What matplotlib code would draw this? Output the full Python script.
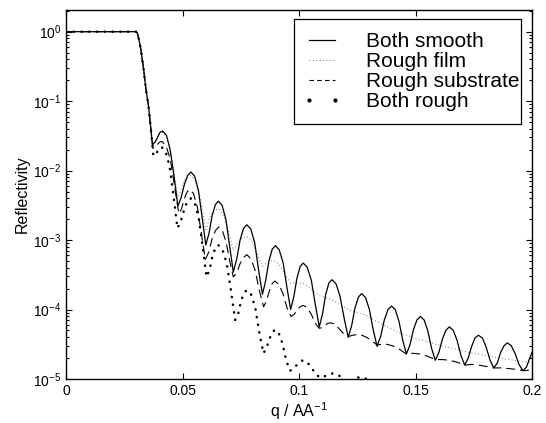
import numpy as np
import matplotlib.pyplot as plt
from matplotlib.lines import Line2D
from matplotlib.patches import Rectangle
from matplotlib.ticker import LogLocator, NullFormatter

plt.rcParams['font.family'] = ['Liberation Sans', 'DejaVu Sans']
plt.rcParams['mathtext.fontset'] = 'custom'
plt.rcParams['mathtext.rm'] = 'Liberation Sans'
plt.rcParams['mathtext.it'] = 'Liberation Sans:italic'

# total reflection plateau and critical edge (shared by all curves)
q_edge = [0.0, 0.0300, 0.0306, 0.0312, 0.0321, 0.0333, 0.0343, 0.0354, 0.0363]
lr_edge = [0.0, 0.0, -0.02, -0.10, -0.25, -0.54, -0.83, -1.07, -1.36]

# log10(R)
q_smooth = [0.0371, 0.0382, 0.0393, 0.0403, 0.0414, 0.0431, 0.0447, 0.0464,
            0.0480, 0.0494, 0.0508, 0.0522, 0.0536, 0.0552, 0.0568, 0.0584,
            0.0600, 0.0614, 0.0627, 0.0641, 0.0654, 0.0670, 0.0686, 0.0702,
            0.0718, 0.0733, 0.0747, 0.0762, 0.0776, 0.0793, 0.0810, 0.0826,
            0.0843, 0.0857, 0.0871, 0.0885, 0.0899, 0.0915, 0.0932, 0.0948,
            0.0964, 0.0978, 0.0991, 0.1005, 0.1018, 0.1035, 0.1053, 0.1070,
            0.1087, 0.1101, 0.1114, 0.1128, 0.1141, 0.1159, 0.1176, 0.1194,
            0.1211, 0.1226, 0.1240, 0.1255, 0.1269, 0.1286, 0.1302, 0.1319,
            0.1335, 0.1351, 0.1366, 0.1382, 0.1397, 0.1413, 0.1429, 0.1445,
            0.1461, 0.1476, 0.1491, 0.1506, 0.1521, 0.1537, 0.1553, 0.1569,
            0.1585, 0.1600, 0.1615, 0.1630, 0.1645, 0.1662, 0.1678, 0.1695,
            0.1711, 0.1726, 0.1741, 0.1755, 0.1770, 0.1787, 0.1803, 0.1820,
            0.1836, 0.1851, 0.1865, 0.1880, 0.1894, 0.1911, 0.1928, 0.1944,
            0.1961, 0.1976, 0.1990, 0.2000]
lr_smooth = [-1.63, -1.59, -1.52, -1.45, -1.43, -1.49, -1.70, -2.09,
             -2.51, -2.39, -2.20, -2.07, -2.02, -2.08, -2.28, -2.67,
             -3.07, -2.90, -2.65, -2.49, -2.44, -2.50, -2.70, -3.08,
             -3.46, -3.27, -3.00, -2.83, -2.78, -2.84, -3.04, -3.42,
             -3.78, -3.58, -3.30, -3.13, -3.08, -3.14, -3.33, -3.68,
             -4.00, -3.81, -3.55, -3.38, -3.33, -3.39, -3.58, -3.93,
             -4.25, -4.06, -3.79, -3.62, -3.57, -3.63, -3.81, -4.13,
             -4.40, -4.23, -3.98, -3.82, -3.77, -3.83, -4.00, -4.30,
             -4.53, -4.38, -4.15, -4.00, -3.95, -4.00, -4.17, -4.44,
             -4.64, -4.51, -4.29, -4.15, -4.10, -4.15, -4.31, -4.56,
             -4.73, -4.62, -4.43, -4.30, -4.25, -4.30, -4.44, -4.66,
             -4.80, -4.70, -4.53, -4.41, -4.37, -4.41, -4.54, -4.73,
             -4.84, -4.77, -4.62, -4.52, -4.48, -4.52, -4.64, -4.79,
             -4.88, -4.83, -4.70, -4.62]

q_film = [0.0371, 0.0385, 0.0400, 0.0414, 0.0430, 0.0447, 0.0464, 0.0480,
          0.0495, 0.0510, 0.0536, 0.0555, 0.0575, 0.0600, 0.0615, 0.0630,
          0.0654, 0.0672, 0.0695, 0.0718, 0.0735, 0.0755, 0.0776, 0.0795,
          0.0820, 0.0843, 0.0860, 0.0880, 0.0899, 0.0920, 0.0964, 0.1018,
          0.1087, 0.1141, 0.1211, 0.1283, 0.1433, 0.1576, 0.1719, 0.1861,
          0.2000]
lr_film = [-1.63, -1.57, -1.48, -1.45, -1.51, -1.70, -2.05, -2.40,
           -2.26, -2.13, -2.07, -2.14, -2.38, -2.85, -2.70, -2.58,
           -2.55, -2.61, -2.85, -3.15, -3.05, -2.97, -2.95, -3.00,
           -3.20, -3.38, -3.33, -3.30, -3.30, -3.38, -3.62, -3.62,
           -3.80, -3.86, -4.00, -4.08, -4.34, -4.49, -4.61, -4.70,
           -4.77]

q_subst = [0.0373, 0.0383, 0.0392, 0.0402, 0.0411, 0.0429, 0.0448, 0.0466,
           0.0484, 0.0496, 0.0507, 0.0519, 0.0530, 0.0547, 0.0564, 0.0581,
           0.0598, 0.0613, 0.0627, 0.0642, 0.0656, 0.0672, 0.0687, 0.0703,
           0.0718, 0.0733, 0.0747, 0.0762, 0.0776, 0.0794, 0.0812, 0.0830,
           0.0848, 0.0860, 0.0872, 0.0884, 0.0896, 0.0914, 0.0931, 0.0949,
           0.0966, 0.0979, 0.0992, 0.1005, 0.1018, 0.1035, 0.1053, 0.1070,
           0.1087, 0.1099, 0.1111, 0.1123, 0.1135, 0.1154, 0.1173, 0.1192,
           0.1211, 0.1230, 0.1250, 0.1270, 0.1290, 0.1312, 0.1335, 0.1355,
           0.1375, 0.1400, 0.1430, 0.1461, 0.1490, 0.1520, 0.1550, 0.1585,
           0.1615, 0.1645, 0.1680, 0.1711, 0.1740, 0.1770, 0.1805, 0.1836,
           0.1865, 0.1900, 0.1930, 0.1961, 0.2000]
lr_subst = [-1.68, -1.665, -1.625, -1.59, -1.58, -1.64, -1.84, -2.23,
            -2.62, -2.55, -2.41, -2.31, -2.27, -2.33, -2.53, -2.91,
            -3.28, -3.17, -2.98, -2.86, -2.81, -2.87, -3.03, -3.31,
            -3.53, -3.47, -3.34, -3.25, -3.21, -3.27, -3.44, -3.73,
            -3.96, -3.88, -3.74, -3.63, -3.59, -3.64, -3.77, -3.98,
            -4.10, -4.07, -4.01, -3.96, -3.94, -3.97, -4.07, -4.20,
            -4.27, -4.26, -4.23, -4.20, -4.19, -4.21, -4.28, -4.35,
            -4.39, -4.37, -4.36, -4.37, -4.40, -4.45, -4.51, -4.50,
            -4.50, -4.52, -4.57, -4.64, -4.63, -4.64, -4.67, -4.72,
            -4.72, -4.73, -4.76, -4.80, -4.79, -4.80, -4.82, -4.84,
            -4.84, -4.85, -4.86, -4.88, -4.87]

q_both = [0.0375, 0.0384, 0.0393, 0.0401, 0.0410, 0.0427, 0.0444, 0.0461,
          0.0478, 0.0492, 0.0507, 0.0521, 0.0535, 0.0552, 0.0569, 0.0586,
          0.0603, 0.0616, 0.0628, 0.0641, 0.0653, 0.0671, 0.0690, 0.0708,
          0.0726, 0.0739, 0.0751, 0.0764, 0.0776, 0.0794, 0.0812, 0.0829,
          0.0847, 0.0860, 0.0872, 0.0885, 0.0897, 0.0913, 0.0929, 0.0945,
          0.0961, 0.0975, 0.0990, 0.1004, 0.1018, 0.1036, 0.1054, 0.1072,
          0.1090, 0.1104, 0.1118, 0.1131, 0.1145, 0.1163, 0.1180, 0.1198,
          0.1215, 0.1240, 0.1265, 0.1290, 0.1335, 0.1400, 0.1500, 0.2000]
lr_both = [-1.79, -1.77, -1.72, -1.68, -1.66, -1.72, -1.93, -2.35,
           -2.83, -2.74, -2.56, -2.44, -2.40, -2.46, -2.67, -3.08,
           -3.53, -3.43, -3.24, -3.11, -3.07, -3.13, -3.34, -3.73,
           -4.15, -4.06, -3.88, -3.76, -3.72, -3.78, -3.97, -4.32,
           -4.63, -4.56, -4.43, -4.33, -4.29, -4.34, -4.49, -4.73,
           -4.88, -4.86, -4.80, -4.75, -4.73, -4.76, -4.84, -4.93,
           -4.98, -4.97, -4.95, -4.93, -4.92, -4.93, -4.97, -5.02,
           -5.06, -4.99, -4.97, -5.00, -5.15, -5.10, -5.30, -5.60]

labels = ['Both smooth', 'Rough film', 'Rough substrate', 'Both rough']


def full_curve(q, lr):
    qq = np.concatenate([q_edge, q])
    rr = 10.0 ** np.concatenate([lr_edge, lr])
    return qq, rr


fig = plt.figure(figsize=(5.46, 4.23), dpi=100)
ax = fig.add_axes([0.1209, 0.104, 0.8535, 0.8723])

x, y = full_curve(q_both, lr_both)
ax.plot(x, y, color='k', lw=1.8, ls=(0, (0.1, 3.0)), dash_capstyle='round')
x, y = full_curve(q_subst, lr_subst)
ax.plot(x, y, color='k', lw=0.8, ls=(0, (8, 4.5)))
x, y = full_curve(q_film, lr_film)
ax.plot(x, y, color='0.45', lw=0.7, ls=(0, (1, 2.5)))
x, y = full_curve(q_smooth, lr_smooth)
ax.plot(x, y, color='k', lw=0.9)

ax.set_yscale('log')
ax.set_xlim(0, 0.2)
ax.set_ylim(1e-5, 2.05)
ax.set_xticks([0, 0.05, 0.1, 0.15, 0.2])
ax.set_xticklabels(['0', '0.05', '0.1', '0.15', '0.2'])
ax.set_yticks([1e-5, 1e-4, 1e-3, 1e-2, 1e-1, 1])
ax.set_yticklabels(['$10^{-5}$', '$10^{-4}$', '$10^{-3}$', '$10^{-2}$',
                    '$10^{-1}$', '$10^{0}$'])
ax.yaxis.set_minor_locator(LogLocator(base=10, subs=range(2, 10), numticks=20))
ax.yaxis.set_minor_formatter(NullFormatter())
ax.tick_params(which='both', direction='in', top=True, right=True,
               labelsize=10, width=0.8)
ax.tick_params(which='major', length=4.5)
ax.tick_params(which='minor', length=2.5)
for s in ax.spines.values():
    s.set_linewidth(1.0)

ax.set_xlabel('q / AA$^{-1}$', fontsize=11.5, labelpad=2)
ax.set_ylabel('Reflectivity', fontsize=11.5, labelpad=2)

# legend box drawn separately so the long label can overflow it
box = Rectangle((0.4893, 0.6911), 0.4871, 0.2837, transform=ax.transAxes,
                facecolor='white', edgecolor='k', lw=0.9, zorder=4)
ax.add_patch(box)
handles = [Line2D([], [], color='k', lw=0.9),
           Line2D([], [], color='0.45', lw=0.7, ls=(0, (1, 2.5))),
           Line2D([], [], color='k', lw=0.8, ls=(0, (4, 3))),
           Line2D([], [], color='k', ls='none', marker='.', ms=4)]
leg = ax.legend(handles, labels, loc='upper left', bbox_to_anchor=(0.5086, 0.9404),
                borderaxespad=0, borderpad=0, fontsize=15, frameon=False,
                handlelength=1.83, handletextpad=1.2, labelspacing=0.05,
                numpoints=2)
leg.set_zorder(5)

fig.savefig('out.png', dpi=100)
